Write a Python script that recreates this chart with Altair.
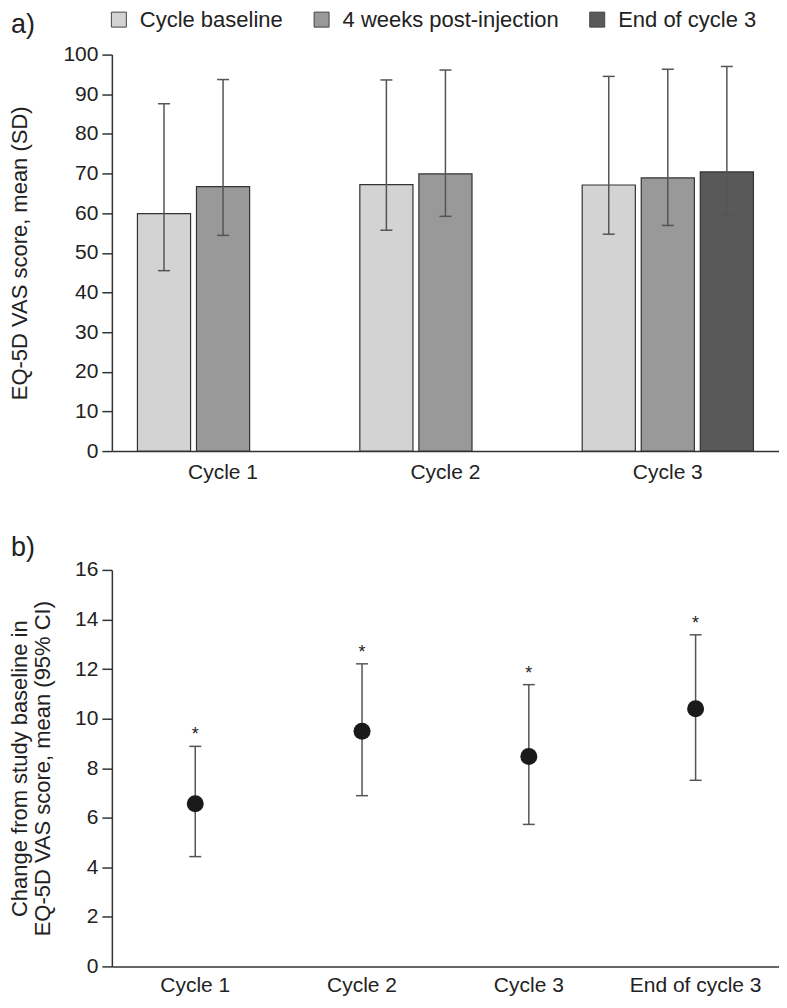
import altair as alt
import pandas as pd

# ---- data ----
cycles = ["Cycle 1", "Cycle 2", "Cycle 3"]
series = ["Cycle baseline", "4 weeks post-injection", "End of cycle 3"]
bar_cycle = ["Cycle 1", "Cycle 1", "Cycle 2", "Cycle 2", "Cycle 3", "Cycle 3", "Cycle 3"]
bar_series = ["Cycle baseline", "4 weeks post-injection",
              "Cycle baseline", "4 weeks post-injection",
              "Cycle baseline", "4 weeks post-injection", "End of cycle 3"]
bar_mean = [59.9, 66.7, 67.2, 69.9, 67.1, 68.9, 70.4]
bar_sd_low = [45.5, 54.4, 55.7, 59.2, 54.7, 56.9, 59.7]
bar_sd_high = [87.6, 93.7, 93.6, 96.1, 94.5, 96.3, 97.0]
bar_colors = ["#d3d3d3", "#999999", "#595959"]

timepoints = ["Cycle 1", "Cycle 2", "Cycle 3", "End of cycle 3"]
change_mean = [6.56, 9.49, 8.47, 10.40]
ci_low = [4.43, 6.89, 5.73, 7.51]
ci_high = [8.88, 12.21, 11.37, 13.38]
sig_marks = ["*", "*", "*", "*"]
panel_labels = ["a)", "b)"]

top_ticks = list(range(0, 101, 10))
bottom_ticks = list(range(0, 17, 2))

FONT = "Liberation Sans"
TXT = "#222222"
AX = "#333333"
ERR = "#555555"

W = 668
H_TOP = 397
H_BOT = 397

df_top = pd.DataFrame({"cycle": bar_cycle, "series": bar_series, "mean": bar_mean,
                       "lo": bar_sd_low, "hi": bar_sd_high})
df_bot = pd.DataFrame({"tp": timepoints, "mean": change_mean, "lo": ci_low,
                       "hi": ci_high, "sig": sig_marks})

# ---- panel a ----
x_top = alt.X("cycle:N", sort=cycles,
              scale=alt.Scale(domain=cycles, paddingInner=0.23, paddingOuter=0.115),
              axis=alt.Axis(title=None, labelAngle=0, ticks=False, labelPadding=10,
                            labelFontSize=21, labelColor=TXT, domainColor=AX,
                            domainWidth=1.5, grid=False))
xoff = alt.XOffset("series:N", sort=series,
                   scale=alt.Scale(domain=series, paddingInner=0.1, paddingOuter=0))
top_axis = alt.Axis(values=top_ticks, grid=False, tickSize=10, tickColor=AX, tickWidth=1.5,
                    domainColor=AX, domainWidth=1.5, labelFontSize=21, labelColor=TXT,
                    labelPadding=4, titleFontSize=22, titleFontWeight="normal",
                    titleColor=TXT, titleX=-92, titleY=H_TOP / 2, titleAngle=-90,
                    titleAlign="center", titleBaseline="middle")
y_scale_top = alt.Scale(domain=[0, 100], nice=False)


def ytop(field):
    return alt.Y(field, scale=y_scale_top, axis=top_axis, title="EQ-5D VAS score, mean (SD)")


bars = alt.Chart(df_top).mark_bar(stroke="#333333", strokeWidth=1.2).encode(
    x=x_top, xOffset=xoff, y=ytop("mean:Q"),
    color=alt.Color("series:N", sort=series,
                    scale=alt.Scale(domain=series, range=bar_colors),
                    legend=alt.Legend(title=None, orient="none", direction="horizontal",
                                      legendX=-4, legendY=-46, padding=0,
                                      symbolType="square", symbolSize=225,
                                      symbolStrokeColor="#444444", symbolStrokeWidth=1,
                                      symbolOpacity=1,
                                      labelFontSize=22, labelColor=TXT, labelOffset=10,
                                      columnPadding=27, labelLimit=400)))
err_top = alt.Chart(df_top).mark_rule(color=ERR, strokeWidth=1.5).encode(
    x=x_top, xOffset=xoff, y=ytop("lo:Q"), y2="hi:Q")
cap_lo = alt.Chart(df_top).mark_tick(color=ERR, thickness=1.5, size=12, opacity=1).encode(
    x=x_top, xOffset=xoff, y=ytop("lo:Q"))
cap_hi = alt.Chart(df_top).mark_tick(color=ERR, thickness=1.5, size=12, opacity=1).encode(
    x=x_top, xOffset=xoff, y=ytop("hi:Q"))
lab_a = alt.Chart(pd.DataFrame({"lab": [panel_labels[0]]})).mark_text(
    align="left", baseline="middle", fontSize=27, color=TXT).encode(
    text="lab:N", x=alt.value(-101), y=alt.value(-30))

top = alt.layer(bars, err_top, cap_lo, cap_hi, lab_a).properties(width=W, height=H_TOP)

# ---- panel b ----
x_bot = alt.X("tp:N", sort=timepoints,
              scale=alt.Scale(domain=timepoints, paddingInner=0, paddingOuter=0),
              axis=alt.Axis(title=None, labelAngle=0, ticks=False, labelPadding=8,
                            labelFontSize=21, labelColor=TXT, domainColor=AX,
                            domainWidth=1.5, grid=False))
bot_axis = alt.Axis(values=bottom_ticks, grid=False, tickSize=10, tickColor=AX, tickWidth=1.5,
                    domainColor=AX, domainWidth=1.5, labelFontSize=21, labelColor=TXT,
                    labelPadding=4, titleFontSize=22, titleFontWeight="normal",
                    titleColor=TXT, titleX=-92, titleY=H_BOT / 2, titleAngle=-90,
                    titleAlign="center", titleBaseline="middle", titleLineHeight=23)
y_scale_bot = alt.Scale(domain=[0, 16], nice=False)
bot_title = ["Change from study baseline in", "EQ-5D VAS score, mean (95% CI)"]


def ybot(field):
    return alt.Y(field, scale=y_scale_bot, axis=bot_axis, title=bot_title)


ci = alt.Chart(df_bot).mark_rule(color=ERR, strokeWidth=1.5).encode(
    x=x_bot, y=ybot("lo:Q"), y2="hi:Q")
ci_lo = alt.Chart(df_bot).mark_tick(color=ERR, thickness=1.5, size=12, opacity=1).encode(
    x=x_bot, y=ybot("lo:Q"))
ci_hi = alt.Chart(df_bot).mark_tick(color=ERR, thickness=1.5, size=12, opacity=1).encode(
    x=x_bot, y=ybot("hi:Q"))
pts = alt.Chart(df_bot).mark_circle(size=290, color="#1a1a1a", opacity=1).encode(
    x=x_bot, y=ybot("mean:Q"))
stars = alt.Chart(df_bot).mark_text(fontSize=18, color=TXT, baseline="middle", dy=-11).encode(
    x=x_bot, y=ybot("hi:Q"), text="sig:N")
lab_b = alt.Chart(pd.DataFrame({"lab": [panel_labels[1]]})).mark_text(
    align="left", baseline="middle", fontSize=27, color=TXT).encode(
    text="lab:N", x=alt.value(-101), y=alt.value(-22))

bottom = alt.layer(ci, ci_lo, ci_hi, pts, stars, lab_b).properties(width=W, height=H_BOT)

chart = alt.vconcat(top, bottom, spacing=52).resolve_scale(
    x="independent", y="independent", color="independent"
).properties(padding=0).configure(font=FONT).configure_view(stroke=None)

chart.save("out.html", embed_options={"renderer": "svg", "actions": False})
